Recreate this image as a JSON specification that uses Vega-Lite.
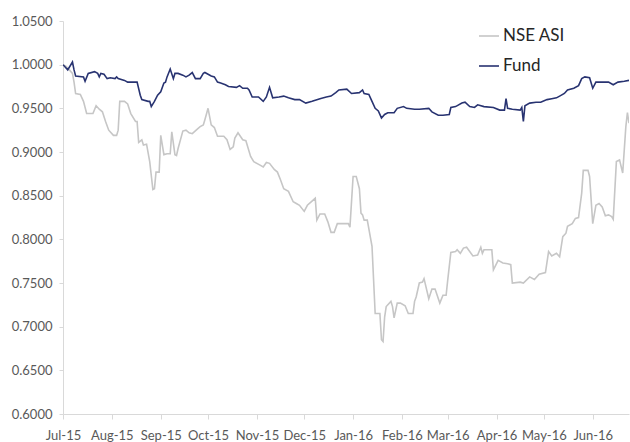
{
  "$schema": "https://vega.github.io/schema/vega-lite/v6.json",
  "width": 566,
  "height": 393,
  "autosize": {"type": "none"},
  "padding": {"left": 63, "top": 21, "right": 1, "bottom": 28},
  "background": "white",
  "config": {"view": {"stroke": null}, "font": "Lato"},
  "data": {"values": [
    {"d":"2015-07-01","s":"NSE ASI","v":1.000},{"d":"2015-07-03","s":"NSE ASI","v":0.998},{"d":"2015-07-05","s":"NSE ASI","v":0.994},{"d":"2015-07-07","s":"NSE ASI","v":0.990},{"d":"2015-07-08","s":"NSE ASI","v":0.980},{"d":"2015-07-09","s":"NSE ASI","v":0.967},{"d":"2015-07-12","s":"NSE ASI","v":0.966},{"d":"2015-07-14","s":"NSE ASI","v":0.958},{"d":"2015-07-16","s":"NSE ASI","v":0.944},{"d":"2015-07-20","s":"NSE ASI","v":0.944},{"d":"2015-07-22","s":"NSE ASI","v":0.953},{"d":"2015-07-24","s":"NSE ASI","v":0.949},{"d":"2015-07-26","s":"NSE ASI","v":0.946},{"d":"2015-07-28","s":"NSE ASI","v":0.935},{"d":"2015-07-30","s":"NSE ASI","v":0.925},{"d":"2015-08-02","s":"NSE ASI","v":0.919},{"d":"2015-08-04","s":"NSE ASI","v":0.919},{"d":"2015-08-05","s":"NSE ASI","v":0.925},{"d":"2015-08-06","s":"NSE ASI","v":0.958},{"d":"2015-08-09","s":"NSE ASI","v":0.958},{"d":"2015-08-11","s":"NSE ASI","v":0.955},{"d":"2015-08-13","s":"NSE ASI","v":0.944},{"d":"2015-08-16","s":"NSE ASI","v":0.935},{"d":"2015-08-17","s":"NSE ASI","v":0.935},{"d":"2015-08-18","s":"NSE ASI","v":0.911},{"d":"2015-08-20","s":"NSE ASI","v":0.914},{"d":"2015-08-21","s":"NSE ASI","v":0.908},{"d":"2015-08-23","s":"NSE ASI","v":0.909},{"d":"2015-08-25","s":"NSE ASI","v":0.889},{"d":"2015-08-27","s":"NSE ASI","v":0.857},{"d":"2015-08-28","s":"NSE ASI","v":0.858},{"d":"2015-08-29","s":"NSE ASI","v":0.877},{"d":"2015-08-31","s":"NSE ASI","v":0.877},{"d":"2015-09-01","s":"NSE ASI","v":0.919},{"d":"2015-09-03","s":"NSE ASI","v":0.897},{"d":"2015-09-05","s":"NSE ASI","v":0.898},{"d":"2015-09-07","s":"NSE ASI","v":0.898},{"d":"2015-09-08","s":"NSE ASI","v":0.923},{"d":"2015-09-10","s":"NSE ASI","v":0.897},{"d":"2015-09-11","s":"NSE ASI","v":0.896},{"d":"2015-09-12","s":"NSE ASI","v":0.904},{"d":"2015-09-15","s":"NSE ASI","v":0.924},{"d":"2015-09-17","s":"NSE ASI","v":0.925},{"d":"2015-09-19","s":"NSE ASI","v":0.922},{"d":"2015-09-21","s":"NSE ASI","v":0.921},{"d":"2015-09-24","s":"NSE ASI","v":0.926},{"d":"2015-09-26","s":"NSE ASI","v":0.929},{"d":"2015-09-28","s":"NSE ASI","v":0.931},{"d":"2015-09-29","s":"NSE ASI","v":0.937},{"d":"2015-10-01","s":"NSE ASI","v":0.950},{"d":"2015-10-03","s":"NSE ASI","v":0.931},{"d":"2015-10-05","s":"NSE ASI","v":0.928},{"d":"2015-10-07","s":"NSE ASI","v":0.918},{"d":"2015-10-11","s":"NSE ASI","v":0.918},{"d":"2015-10-13","s":"NSE ASI","v":0.914},{"d":"2015-10-15","s":"NSE ASI","v":0.903},{"d":"2015-10-17","s":"NSE ASI","v":0.906},{"d":"2015-10-18","s":"NSE ASI","v":0.916},{"d":"2015-10-20","s":"NSE ASI","v":0.922},{"d":"2015-10-23","s":"NSE ASI","v":0.914},{"d":"2015-10-25","s":"NSE ASI","v":0.913},{"d":"2015-10-28","s":"NSE ASI","v":0.895},{"d":"2015-10-30","s":"NSE ASI","v":0.889},{"d":"2015-11-03","s":"NSE ASI","v":0.885},{"d":"2015-11-05","s":"NSE ASI","v":0.883},{"d":"2015-11-07","s":"NSE ASI","v":0.888},{"d":"2015-11-09","s":"NSE ASI","v":0.887},{"d":"2015-11-12","s":"NSE ASI","v":0.880},{"d":"2015-11-14","s":"NSE ASI","v":0.877},{"d":"2015-11-16","s":"NSE ASI","v":0.868},{"d":"2015-11-18","s":"NSE ASI","v":0.858},{"d":"2015-11-21","s":"NSE ASI","v":0.855},{"d":"2015-11-24","s":"NSE ASI","v":0.843},{"d":"2015-11-26","s":"NSE ASI","v":0.841},{"d":"2015-11-28","s":"NSE ASI","v":0.839},{"d":"2015-12-01","s":"NSE ASI","v":0.832},{"d":"2015-12-03","s":"NSE ASI","v":0.839},{"d":"2015-12-08","s":"NSE ASI","v":0.847},{"d":"2015-12-09","s":"NSE ASI","v":0.822},{"d":"2015-12-11","s":"NSE ASI","v":0.829},{"d":"2015-12-14","s":"NSE ASI","v":0.829},{"d":"2015-12-16","s":"NSE ASI","v":0.820},{"d":"2015-12-18","s":"NSE ASI","v":0.808},{"d":"2015-12-20","s":"NSE ASI","v":0.808},{"d":"2015-12-22","s":"NSE ASI","v":0.818},{"d":"2015-12-27","s":"NSE ASI","v":0.818},{"d":"2015-12-29","s":"NSE ASI","v":0.818},{"d":"2015-12-30","s":"NSE ASI","v":0.814},{"d":"2016-01-01","s":"NSE ASI","v":0.872},{"d":"2016-01-03","s":"NSE ASI","v":0.872},{"d":"2016-01-05","s":"NSE ASI","v":0.858},{"d":"2016-01-06","s":"NSE ASI","v":0.830},{"d":"2016-01-07","s":"NSE ASI","v":0.828},{"d":"2016-01-08","s":"NSE ASI","v":0.822},{"d":"2016-01-10","s":"NSE ASI","v":0.822},{"d":"2016-01-13","s":"NSE ASI","v":0.792},{"d":"2016-01-15","s":"NSE ASI","v":0.715},{"d":"2016-01-18","s":"NSE ASI","v":0.715},{"d":"2016-01-19","s":"NSE ASI","v":0.685},{"d":"2016-01-20","s":"NSE ASI","v":0.683},{"d":"2016-01-21","s":"NSE ASI","v":0.711},{"d":"2016-01-22","s":"NSE ASI","v":0.723},{"d":"2016-01-25","s":"NSE ASI","v":0.729},{"d":"2016-01-26","s":"NSE ASI","v":0.723},{"d":"2016-01-27","s":"NSE ASI","v":0.710},{"d":"2016-01-29","s":"NSE ASI","v":0.727},{"d":"2016-01-31","s":"NSE ASI","v":0.727},{"d":"2016-02-03","s":"NSE ASI","v":0.724},{"d":"2016-02-05","s":"NSE ASI","v":0.715},{"d":"2016-02-08","s":"NSE ASI","v":0.715},{"d":"2016-02-09","s":"NSE ASI","v":0.729},{"d":"2016-02-10","s":"NSE ASI","v":0.734},{"d":"2016-02-12","s":"NSE ASI","v":0.750},{"d":"2016-02-14","s":"NSE ASI","v":0.751},{"d":"2016-02-15","s":"NSE ASI","v":0.755},{"d":"2016-02-18","s":"NSE ASI","v":0.732},{"d":"2016-02-20","s":"NSE ASI","v":0.743},{"d":"2016-02-22","s":"NSE ASI","v":0.743},{"d":"2016-02-25","s":"NSE ASI","v":0.727},{"d":"2016-02-27","s":"NSE ASI","v":0.736},{"d":"2016-02-29","s":"NSE ASI","v":0.736},{"d":"2016-03-01","s":"NSE ASI","v":0.753},{"d":"2016-03-03","s":"NSE ASI","v":0.785},{"d":"2016-03-06","s":"NSE ASI","v":0.786},{"d":"2016-03-07","s":"NSE ASI","v":0.788},{"d":"2016-03-09","s":"NSE ASI","v":0.784},{"d":"2016-03-11","s":"NSE ASI","v":0.790},{"d":"2016-03-13","s":"NSE ASI","v":0.791},{"d":"2016-03-17","s":"NSE ASI","v":0.781},{"d":"2016-03-20","s":"NSE ASI","v":0.782},{"d":"2016-03-22","s":"NSE ASI","v":0.791},{"d":"2016-03-23","s":"NSE ASI","v":0.784},{"d":"2016-03-24","s":"NSE ASI","v":0.788},{"d":"2016-03-29","s":"NSE ASI","v":0.788},{"d":"2016-03-30","s":"NSE ASI","v":0.765},{"d":"2016-04-02","s":"NSE ASI","v":0.776},{"d":"2016-04-05","s":"NSE ASI","v":0.773},{"d":"2016-04-08","s":"NSE ASI","v":0.772},{"d":"2016-04-10","s":"NSE ASI","v":0.771},{"d":"2016-04-11","s":"NSE ASI","v":0.750},{"d":"2016-04-16","s":"NSE ASI","v":0.751},{"d":"2016-04-18","s":"NSE ASI","v":0.750},{"d":"2016-04-22","s":"NSE ASI","v":0.757},{"d":"2016-04-25","s":"NSE ASI","v":0.754},{"d":"2016-04-28","s":"NSE ASI","v":0.760},{"d":"2016-05-02","s":"NSE ASI","v":0.762},{"d":"2016-05-04","s":"NSE ASI","v":0.786},{"d":"2016-05-06","s":"NSE ASI","v":0.781},{"d":"2016-05-09","s":"NSE ASI","v":0.784},{"d":"2016-05-11","s":"NSE ASI","v":0.780},{"d":"2016-05-13","s":"NSE ASI","v":0.803},{"d":"2016-05-15","s":"NSE ASI","v":0.807},{"d":"2016-05-16","s":"NSE ASI","v":0.815},{"d":"2016-05-19","s":"NSE ASI","v":0.818},{"d":"2016-05-21","s":"NSE ASI","v":0.824},{"d":"2016-05-23","s":"NSE ASI","v":0.825},{"d":"2016-05-25","s":"NSE ASI","v":0.853},{"d":"2016-05-26","s":"NSE ASI","v":0.879},{"d":"2016-05-29","s":"NSE ASI","v":0.879},{"d":"2016-05-30","s":"NSE ASI","v":0.872},{"d":"2016-06-01","s":"NSE ASI","v":0.818},{"d":"2016-06-03","s":"NSE ASI","v":0.839},{"d":"2016-06-05","s":"NSE ASI","v":0.841},{"d":"2016-06-07","s":"NSE ASI","v":0.837},{"d":"2016-06-09","s":"NSE ASI","v":0.827},{"d":"2016-06-11","s":"NSE ASI","v":0.828},{"d":"2016-06-13","s":"NSE ASI","v":0.826},{"d":"2016-06-14","s":"NSE ASI","v":0.823},{"d":"2016-06-16","s":"NSE ASI","v":0.889},{"d":"2016-06-18","s":"NSE ASI","v":0.891},{"d":"2016-06-20","s":"NSE ASI","v":0.876},{"d":"2016-06-22","s":"NSE ASI","v":0.929},{"d":"2016-06-23","s":"NSE ASI","v":0.945},{"d":"2016-06-24","s":"NSE ASI","v":0.933},
    {"d":"2015-07-01","s":"Fund","v":1.000},{"d":"2015-07-04","s":"Fund","v":0.994},{"d":"2015-07-07","s":"Fund","v":1.003},{"d":"2015-07-08","s":"Fund","v":0.994},{"d":"2015-07-09","s":"Fund","v":0.987},{"d":"2015-07-14","s":"Fund","v":0.986},{"d":"2015-07-15","s":"Fund","v":0.981},{"d":"2015-07-17","s":"Fund","v":0.990},{"d":"2015-07-21","s":"Fund","v":0.992},{"d":"2015-07-23","s":"Fund","v":0.990},{"d":"2015-07-24","s":"Fund","v":0.986},{"d":"2015-07-25","s":"Fund","v":0.990},{"d":"2015-07-27","s":"Fund","v":0.989},{"d":"2015-07-29","s":"Fund","v":0.984},{"d":"2015-07-31","s":"Fund","v":0.985},{"d":"2015-08-03","s":"Fund","v":0.984},{"d":"2015-08-04","s":"Fund","v":0.986},{"d":"2015-08-05","s":"Fund","v":0.984},{"d":"2015-08-09","s":"Fund","v":0.982},{"d":"2015-08-11","s":"Fund","v":0.980},{"d":"2015-08-13","s":"Fund","v":0.980},{"d":"2015-08-17","s":"Fund","v":0.980},{"d":"2015-08-19","s":"Fund","v":0.965},{"d":"2015-08-20","s":"Fund","v":0.960},{"d":"2015-08-24","s":"Fund","v":0.958},{"d":"2015-08-25","s":"Fund","v":0.958},{"d":"2015-08-26","s":"Fund","v":0.952},{"d":"2015-08-28","s":"Fund","v":0.958},{"d":"2015-08-30","s":"Fund","v":0.965},{"d":"2015-09-01","s":"Fund","v":0.969},{"d":"2015-09-03","s":"Fund","v":0.979},{"d":"2015-09-04","s":"Fund","v":0.980},{"d":"2015-09-05","s":"Fund","v":0.986},{"d":"2015-09-07","s":"Fund","v":0.995},{"d":"2015-09-09","s":"Fund","v":0.984},{"d":"2015-09-10","s":"Fund","v":0.990},{"d":"2015-09-12","s":"Fund","v":0.990},{"d":"2015-09-15","s":"Fund","v":0.988},{"d":"2015-09-17","s":"Fund","v":0.986},{"d":"2015-09-19","s":"Fund","v":0.988},{"d":"2015-09-21","s":"Fund","v":0.991},{"d":"2015-09-23","s":"Fund","v":0.984},{"d":"2015-09-26","s":"Fund","v":0.984},{"d":"2015-09-28","s":"Fund","v":0.990},{"d":"2015-09-29","s":"Fund","v":0.991},{"d":"2015-10-03","s":"Fund","v":0.987},{"d":"2015-10-05","s":"Fund","v":0.986},{"d":"2015-10-07","s":"Fund","v":0.980},{"d":"2015-10-09","s":"Fund","v":0.979},{"d":"2015-10-12","s":"Fund","v":0.977},{"d":"2015-10-14","s":"Fund","v":0.975},{"d":"2015-10-19","s":"Fund","v":0.974},{"d":"2015-10-21","s":"Fund","v":0.976},{"d":"2015-10-23","s":"Fund","v":0.973},{"d":"2015-10-26","s":"Fund","v":0.973},{"d":"2015-10-27","s":"Fund","v":0.971},{"d":"2015-10-29","s":"Fund","v":0.963},{"d":"2015-11-02","s":"Fund","v":0.963},{"d":"2015-11-05","s":"Fund","v":0.958},{"d":"2015-11-07","s":"Fund","v":0.963},{"d":"2015-11-09","s":"Fund","v":0.974},{"d":"2015-11-11","s":"Fund","v":0.962},{"d":"2015-11-15","s":"Fund","v":0.963},{"d":"2015-11-18","s":"Fund","v":0.964},{"d":"2015-11-21","s":"Fund","v":0.962},{"d":"2015-11-25","s":"Fund","v":0.960},{"d":"2015-11-28","s":"Fund","v":0.960},{"d":"2015-12-02","s":"Fund","v":0.956},{"d":"2015-12-06","s":"Fund","v":0.958},{"d":"2015-12-11","s":"Fund","v":0.961},{"d":"2015-12-15","s":"Fund","v":0.963},{"d":"2015-12-18","s":"Fund","v":0.964},{"d":"2015-12-21","s":"Fund","v":0.968},{"d":"2015-12-23","s":"Fund","v":0.971},{"d":"2015-12-28","s":"Fund","v":0.972},{"d":"2015-12-31","s":"Fund","v":0.967},{"d":"2016-01-05","s":"Fund","v":0.968},{"d":"2016-01-07","s":"Fund","v":0.971},{"d":"2016-01-08","s":"Fund","v":0.967},{"d":"2016-01-11","s":"Fund","v":0.966},{"d":"2016-01-13","s":"Fund","v":0.958},{"d":"2016-01-15","s":"Fund","v":0.950},{"d":"2016-01-17","s":"Fund","v":0.947},{"d":"2016-01-19","s":"Fund","v":0.939},{"d":"2016-01-21","s":"Fund","v":0.943},{"d":"2016-01-23","s":"Fund","v":0.945},{"d":"2016-01-27","s":"Fund","v":0.945},{"d":"2016-01-29","s":"Fund","v":0.950},{"d":"2016-02-02","s":"Fund","v":0.952},{"d":"2016-02-04","s":"Fund","v":0.950},{"d":"2016-02-09","s":"Fund","v":0.949},{"d":"2016-02-12","s":"Fund","v":0.949},{"d":"2016-02-18","s":"Fund","v":0.950},{"d":"2016-02-20","s":"Fund","v":0.946},{"d":"2016-02-24","s":"Fund","v":0.942},{"d":"2016-02-27","s":"Fund","v":0.942},{"d":"2016-03-02","s":"Fund","v":0.943},{"d":"2016-03-03","s":"Fund","v":0.951},{"d":"2016-03-06","s":"Fund","v":0.952},{"d":"2016-03-10","s":"Fund","v":0.956},{"d":"2016-03-12","s":"Fund","v":0.957},{"d":"2016-03-15","s":"Fund","v":0.952},{"d":"2016-03-18","s":"Fund","v":0.951},{"d":"2016-03-20","s":"Fund","v":0.954},{"d":"2016-03-24","s":"Fund","v":0.952},{"d":"2016-03-30","s":"Fund","v":0.951},{"d":"2016-04-03","s":"Fund","v":0.948},{"d":"2016-04-06","s":"Fund","v":0.948},{"d":"2016-04-07","s":"Fund","v":0.961},{"d":"2016-04-08","s":"Fund","v":0.950},{"d":"2016-04-11","s":"Fund","v":0.949},{"d":"2016-04-16","s":"Fund","v":0.948},{"d":"2016-04-17","s":"Fund","v":0.951},{"d":"2016-04-18","s":"Fund","v":0.935},{"d":"2016-04-19","s":"Fund","v":0.953},{"d":"2016-04-22","s":"Fund","v":0.956},{"d":"2016-04-26","s":"Fund","v":0.957},{"d":"2016-04-29","s":"Fund","v":0.957},{"d":"2016-05-03","s":"Fund","v":0.960},{"d":"2016-05-06","s":"Fund","v":0.961},{"d":"2016-05-09","s":"Fund","v":0.962},{"d":"2016-05-11","s":"Fund","v":0.964},{"d":"2016-05-14","s":"Fund","v":0.967},{"d":"2016-05-16","s":"Fund","v":0.971},{"d":"2016-05-20","s":"Fund","v":0.973},{"d":"2016-05-23","s":"Fund","v":0.976},{"d":"2016-05-25","s":"Fund","v":0.984},{"d":"2016-05-27","s":"Fund","v":0.986},{"d":"2016-05-30","s":"Fund","v":0.985},{"d":"2016-06-01","s":"Fund","v":0.973},{"d":"2016-06-03","s":"Fund","v":0.980},{"d":"2016-06-08","s":"Fund","v":0.980},{"d":"2016-06-11","s":"Fund","v":0.980},{"d":"2016-06-14","s":"Fund","v":0.977},{"d":"2016-06-17","s":"Fund","v":0.980},{"d":"2016-06-21","s":"Fund","v":0.981},{"d":"2016-06-24","s":"Fund","v":0.982}
  ]},
  "mark": {"type": "line", "strokeWidth": 1.6, "interpolate": "linear", "clip": true},
  "encoding": {
    "x": {
      "field": "d", "type": "temporal",
      "scale": {"type": "utc", "domain": [{"year": 2015, "month": 7, "date": 1, "utc": true}, {"year": 2016, "month": 6, "date": 24, "utc": true}]},
      "axis": {
        "title": null, "format": "%b-%y", "grid": false,
        "values": [
          {"year": 2015, "month": 7, "date": 1, "utc": true},
          {"year": 2015, "month": 8, "date": 1, "utc": true},
          {"year": 2015, "month": 9, "date": 1, "utc": true},
          {"year": 2015, "month": 10, "date": 1, "utc": true},
          {"year": 2015, "month": 11, "date": 1, "utc": true},
          {"year": 2015, "month": 12, "date": 1, "utc": true},
          {"year": 2016, "month": 1, "date": 1, "utc": true},
          {"year": 2016, "month": 2, "date": 1, "utc": true},
          {"year": 2016, "month": 3, "date": 1, "utc": true},
          {"year": 2016, "month": 4, "date": 1, "utc": true},
          {"year": 2016, "month": 5, "date": 1, "utc": true},
          {"year": 2016, "month": 6, "date": 1, "utc": true}
        ],
        "domainColor": "#d9d9d9", "tickColor": "#d9d9d9", "tickSize": 5,
        "labelColor": "#595959", "labelFontSize": 13, "labelPadding": 10,
        "labelFlush": false, "labelOverlap": false, "labelFont": "Lato"
      }
    },
    "y": {
      "field": "v", "type": "quantitative",
      "scale": {"domain": [0.6, 1.05], "nice": false, "zero": false},
      "axis": {
        "title": null, "format": ".4f", "grid": false,
        "values": [0.6, 0.65, 0.7, 0.75, 0.8, 0.85, 0.9, 0.95, 1.0, 1.05],
        "domainColor": "#d9d9d9", "tickColor": "#d9d9d9", "tickSize": 4,
        "labelColor": "#595959", "labelFontSize": 13, "labelPadding": 7, "labelFont": "Lato"
      }
    },
    "color": {
      "field": "s", "type": "nominal",
      "scale": {"domain": ["NSE ASI", "Fund"], "range": ["#c6c6c6", "#283371"]},
      "legend": {
        "title": null, "orient": "none", "legendX": 415, "legendY": 4,
        "symbolType": "stroke", "symbolSize": 400, "symbolStrokeWidth": 1.6,
        "labelFontSize": 17, "labelColor": "#262626", "labelFont": "Lato",
        "labelOffset": 3, "rowPadding": 11
      }
    }
  }
}
